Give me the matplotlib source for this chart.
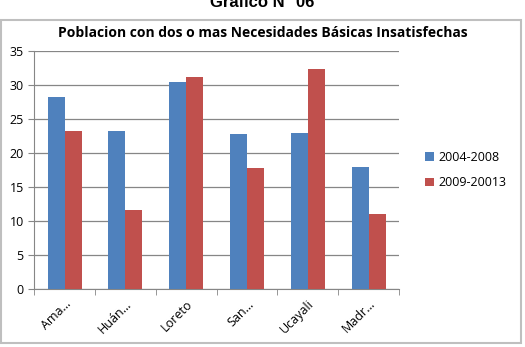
import matplotlib.pyplot as plt
import matplotlib.patches as patches
import numpy as np

plt.rcParams['font.family'] = ['Open Sans', 'DejaVu Sans']

regiones = ['Ama…', 'Huán…', 'Loreto', 'San…', 'Ucayali', 'Madr…']
serie_2004 = [28.2, 23.2, 30.4, 22.8, 22.9, 18.0]
serie_2009 = [23.2, 11.6, 31.2, 17.8, 32.4, 11.0]
etiquetas = ['2004-2008', '2009-20013']

fig = plt.figure(figsize=(5.25, 3.47), dpi=100)
ax = fig.add_axes([0.065, 0.167, 0.695, 0.686])

x = np.arange(len(regiones))
w = 0.28
ax.bar(x - w/2, serie_2004, w, color='#4F81BD', label=etiquetas[0], zorder=3)
ax.bar(x + w/2, serie_2009, w, color='#C0504D', label=etiquetas[1], zorder=3)

ax.set_ylim(0, 35)
ax.set_yticks(range(0, 36, 5))
ax.set_xlim(-0.5, len(regiones) - 0.5)
ax.set_xticks(x)
ax.set_xticklabels(regiones, rotation=45, ha='right', rotation_mode='anchor', fontsize=9)
ax.set_xticks(np.arange(-0.5, len(regiones)), minor=True)
ax.tick_params(axis='x', which='major', length=0, pad=6)
ax.tick_params(axis='x', which='minor', length=4, color='#868686')
ax.tick_params(axis='y', length=4, color='#868686', labelsize=9)
ax.yaxis.grid(True, color='#868686', lw=0.9, zorder=0)
for s in ['top', 'right']:
    ax.spines[s].set_visible(False)
for s in ['left', 'bottom']:
    ax.spines[s].set_color('#868686')

ax.legend(loc='center left', bbox_to_anchor=(1.04, 0.5), frameon=False,
          fontsize=9, handlelength=0.7, handleheight=0.7, handletextpad=0.4,
          labelspacing=1.0)

fig.text(0.5, 0.905, 'Poblacion con dos o mas Necesidades Básicas Insatisfechas',
         ha='center', va='center', fontsize=10, fontweight='bold')
fig.text(0.5, 1 - 7/347, 'Grafico N° 06', ha='center', va='baseline',
         fontsize=12, fontweight='bold', family='Liberation Sans')

fig.patches.append(patches.Rectangle((0.002, 0.012), 0.99, 0.93,
                                     transform=fig.transFigure, fill=False,
                                     edgecolor='#bfbfbf', lw=1.5))

fig.savefig('out.png', dpi=100)
